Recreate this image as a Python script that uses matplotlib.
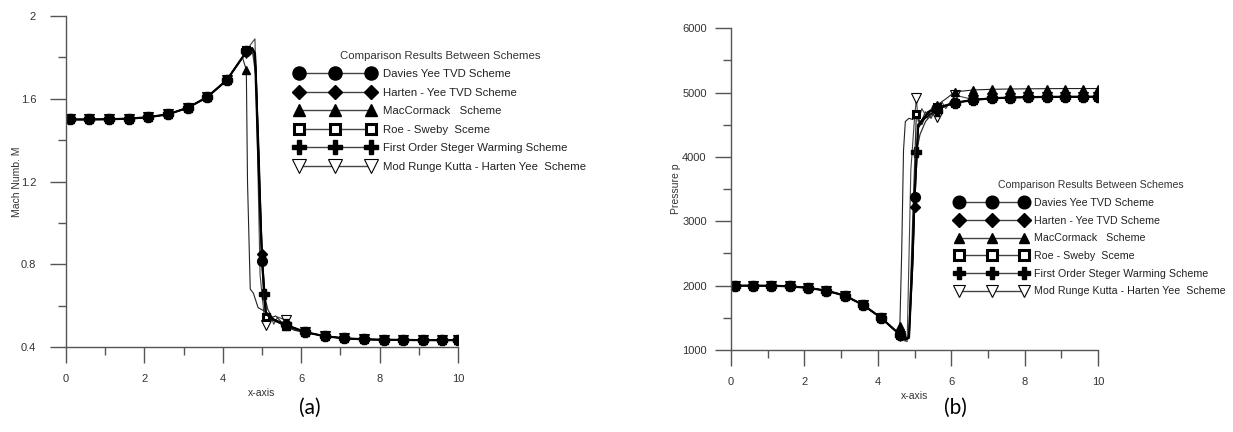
import matplotlib
matplotlib.use('Agg')
import matplotlib.pyplot as plt
from matplotlib.ticker import MultipleLocator, FormatStrFormatter

plt.rcParams['font.family'] = ['Liberation Sans', 'DejaVu Sans']

# ---------------- data (a) Mach number ----------------
xa_up = [0.0, 0.1, 0.6, 1.1, 1.6, 2.1, 2.6, 3.1, 3.6, 4.1, 4.5]
ma_up = [1.500, 1.500, 1.500, 1.501, 1.504, 1.511, 1.525, 1.556, 1.608, 1.690, 1.800]
xa_dn = [6.1, 6.6, 7.1, 7.6, 8.1, 8.6, 9.1, 9.6, 10.0]
ma_dn = [0.472, 0.452, 0.442, 0.437, 0.435, 0.434, 0.433, 0.433, 0.433]

davies_xa = [4.6, 4.75, 4.82, 4.9, 5.0, 5.1, 5.3, 5.6, 5.85]
davies_ma = [1.83, 1.845, 1.82, 1.35, 0.815, 0.56, 0.53, 0.505, 0.49]
harten_xa = [4.6, 4.75, 4.83, 4.92, 5.0, 5.1, 5.3, 5.6, 5.85]
harten_ma = [1.83, 1.845, 1.81, 1.35, 0.85, 0.57, 0.535, 0.51, 0.49]
maccor_xa = [4.6, 4.63, 4.7, 4.78, 4.9, 5.0, 5.1, 5.2, 5.35, 5.5, 5.6, 5.85]
maccor_ma = [1.74, 1.2, 0.68, 0.66, 0.59, 0.58, 0.57, 0.54, 0.55, 0.52, 0.50, 0.48]
roe_xa = [4.6, 4.75, 4.85, 4.95, 5.05, 5.1, 5.3, 5.6, 5.85]
roe_ma = [1.835, 1.84, 1.70, 1.00, 0.62, 0.545, 0.53, 0.50, 0.485]
steger_xa = [4.6, 4.75, 4.85, 4.95, 5.05, 5.15, 5.3, 5.6, 5.85]
steger_ma = [1.83, 1.84, 1.75, 1.10, 0.656, 0.58, 0.53, 0.51, 0.49]
rk_xa = [4.6, 4.7, 4.82, 4.88, 4.95, 5.05, 5.1, 5.2, 5.3, 5.4, 5.6, 5.7, 5.85]
rk_ma = [1.82, 1.86, 1.89, 1.40, 0.75, 0.56, 0.506, 0.56, 0.51, 0.545, 0.53, 0.49, 0.48]

# ---------------- data (b) pressure ----------------
xb_up = [0.0, 0.1, 0.6, 1.1, 1.6, 2.1, 2.6, 3.1, 3.6, 4.1, 4.5]
pb_up = [2000, 2000, 2000, 1998, 1990, 1965, 1922, 1845, 1700, 1495, 1290]
xb_dn = [6.1, 6.6, 7.1, 7.6, 8.1, 8.6, 9.1, 9.6, 10.0]
pb_dn = [4840, 4885, 4910, 4922, 4928, 4932, 4934, 4935, 4935]
pb_dn_maccor = [5010, 5040, 5050, 5055, 5058, 5060, 5062, 5062, 5062]
pb_dn_rk = [4960, 4890, 4912, 4922, 4928, 4932, 4934, 4935, 4935]

davies_xb = [4.6, 4.75, 4.85, 4.95, 5.0, 5.1, 5.25, 5.4, 5.6, 5.85]
davies_pb = [1235, 1160, 1200, 2500, 3380, 4500, 4600, 4700, 4760, 4800]
harten_xb = [4.6, 4.75, 4.85, 4.95, 5.0, 5.1, 5.25, 5.4, 5.6, 5.85]
harten_pb = [1235, 1165, 1180, 2300, 3220, 4450, 4580, 4650, 4740, 4790]
maccor_xb = [4.6, 4.65, 4.7, 4.75, 4.85, 4.95, 5.05, 5.2, 5.35, 5.5, 5.6, 5.85]
maccor_pb = [1375, 2500, 4100, 4550, 4600, 4580, 4650, 4500, 4700, 4750, 4800, 4900]
roe_xb = [4.6, 4.75, 4.85, 4.95, 5.05, 5.15, 5.3, 5.45, 5.6, 5.85]
roe_pb = [1233, 1170, 1250, 3000, 4665, 4500, 4700, 4600, 4780, 4800]
steger_xb = [4.6, 4.75, 4.85, 4.95, 5.05, 5.15, 5.3, 5.45, 5.6, 5.85]
steger_pb = [1240, 1180, 1220, 2400, 4080, 4350, 4550, 4650, 4720, 4790]
rk_xb = [4.6, 4.7, 4.8, 4.9, 5.0, 5.05, 5.1, 5.2, 5.35, 5.5, 5.6, 5.75, 5.85]
rk_pb = [1220, 1150, 1130, 3800, 4600, 4908, 4550, 4750, 4600, 4800, 4620, 4850, 4750]

labels = ['Davies Yee TVD Scheme', 'Harten - Yee TVD Scheme', 'MacCormack   Scheme',
          'Roe - Sweby  Sceme', 'First Order Steger Warming Scheme',
          'Mod Runge Kutta - Harten Yee  Scheme']

# marker positions along x (every 0.5 starting near 0.1) + special shock markers
mark_x = [0.1, 0.6, 1.1, 1.6, 2.1, 2.6, 3.1, 3.6, 4.1, 4.6, 5.6, 6.1, 6.6, 7.1,
          7.6, 8.1, 8.6, 9.1, 9.6, 10.0]


def marks(x, extra):
    return [i for i, v in enumerate(x) if round(v, 2) in mark_x or round(v, 2) in extra]


styles = [
    dict(marker='o', color='black', mfc='black', mec='black', lw=1.6, ms=7),
    dict(marker='D', color='black', mfc='black', mec='black', lw=1.0, ms=5.5),
    dict(marker='^', color='#222222', mfc='black', mec='black', lw=0.8, ms=6),
    dict(marker='s', color='#333333', mfc='white', mec='black', mew=2.2, lw=0.9, ms=5),
    dict(marker='P', color='#333333', mfc='black', mec='black', lw=0.9, ms=7),
    dict(marker='v', color='#444444', mfc='white', mec='black', mew=0.8, lw=0.8, ms=7),
]

fig = plt.figure(figsize=(12.33, 4.32), dpi=100)
ax1 = fig.add_axes([0.0535, 0.1968, 0.318, 0.766])
ax2 = fig.add_axes([0.5929, 0.1898, 0.2976, 0.745])

series_a = [(davies_xa, davies_ma, ma_dn, [5.0]),
            (harten_xa, harten_ma, ma_dn, [5.0]),
            (maccor_xa, maccor_ma, ma_dn, []),
            (roe_xa, roe_ma, ma_dn, [5.1]),
            (steger_xa, steger_ma, ma_dn, [5.05]),
            (rk_xa, rk_ma, ma_dn, [5.1])]
series_b = [(davies_xb, davies_pb, pb_dn, [5.0]),
            (harten_xb, harten_pb, pb_dn, [5.0]),
            (maccor_xb, maccor_pb, pb_dn_maccor, []),
            (roe_xb, roe_pb, pb_dn, [5.05]),
            (steger_xb, steger_pb, pb_dn, [5.05]),
            (rk_xb, rk_pb, pb_dn_rk, [5.05])]

# draw thin ones first, Davies last on top
order = [5, 2, 4, 3, 1, 0]
for ax, series, xup, yup, xdn in [(ax1, series_a, xa_up, ma_up, xa_dn),
                                  (ax2, series_b, xb_up, pb_up, xb_dn)]:
    for k in order:
        xs, ys, ydn, extra = series[k]
        x = xup + xs + xdn
        y = yup + ys + ydn
        ax.plot(x, y, markevery=marks(x, extra), label=labels[k], **styles[k])

for ax in (ax1, ax2):
    ax.set_xlim(0, 10)
    ax.spines['top'].set_visible(False)
    ax.spines['right'].set_visible(False)
    for s in ('left', 'bottom'):
        ax.spines[s].set_color('#555555')
        ax.spines[s].set_linewidth(1.0)
    ax.xaxis.set_major_locator(MultipleLocator(2))
    ax.xaxis.set_minor_locator(MultipleLocator(1))
    ax.tick_params(which='major', direction='out', length=11.5, width=1.0,
                   color='#555555', labelsize=8, labelcolor='#333333')
    ax.tick_params(which='minor', direction='out', length=6, width=1.0, color='#555555')
    ax.tick_params(axis='x', pad=8)
    ax.set_xlabel('x-axis', fontsize=7.5, color='#333333', labelpad=3)

ax1.set_ylim(0.4, 2.0)
ax1.yaxis.set_major_locator(MultipleLocator(0.4))
ax1.yaxis.set_minor_locator(MultipleLocator(0.2))
ax1.yaxis.set_major_formatter(FormatStrFormatter('%g'))
ax1.tick_params(axis='y', pad=10)
ax1.set_ylabel('Mach Numb. M', fontsize=7.5, color='#333333', labelpad=-1)

ax2.set_ylim(1000, 6000)
ax2.yaxis.set_major_locator(MultipleLocator(1000))
ax2.yaxis.set_minor_locator(MultipleLocator(500))
ax2.tick_params(axis='y', pad=6)
ax2.set_ylabel('Pressure p', fontsize=7.5, color='#333333', labelpad=0.5)

title = 'Comparison Results Between Schemes'
h1, l1 = ax1.get_legend_handles_labels()
idx = [l1.index(t) for t in labels]
lg1 = ax1.legend([h1[i] for i in idx], labels, loc='upper left',
                 bbox_to_anchor=(291 / 1233, 1 - 46 / 432),
                 bbox_transform=fig.transFigure, numpoints=3, handlelength=6.9,
                 markerscale=1.35, frameon=False, fontsize=8.2, title=title,
                 title_fontsize=8.2, labelspacing=0.75, handletextpad=0.75,
                 borderaxespad=0, labelcolor='#222222')
h2, l2 = ax2.get_legend_handles_labels()
lg2 = ax2.legend([h2[i] for i in idx], labels, loc='upper left',
                 bbox_to_anchor=(952 / 1233, 1 - 176 / 432),
                 bbox_transform=fig.transFigure, numpoints=3, handlelength=6.6,
                 markerscale=1.3, frameon=False, fontsize=7.7, title=title,
                 title_fontsize=7.6, labelspacing=0.72, handletextpad=0.7,
                 borderaxespad=0, labelcolor='#222222')
for lg in (lg1, lg2):
    lg.get_title().set_color('#333333')
    for ln in lg.get_lines():
        ln.set_color('#444444')
        ln.set_linewidth(1.0)

fig.text(310 / 1233, 1 - 408 / 432, '(a)', fontsize=15, family='Lato',
         ha='center', va='center')
fig.text(955 / 1233, 1 - 408 / 432, '(b)', fontsize=15, family='Lato',
         ha='center', va='center')

fig.savefig('out.png', dpi=100)
